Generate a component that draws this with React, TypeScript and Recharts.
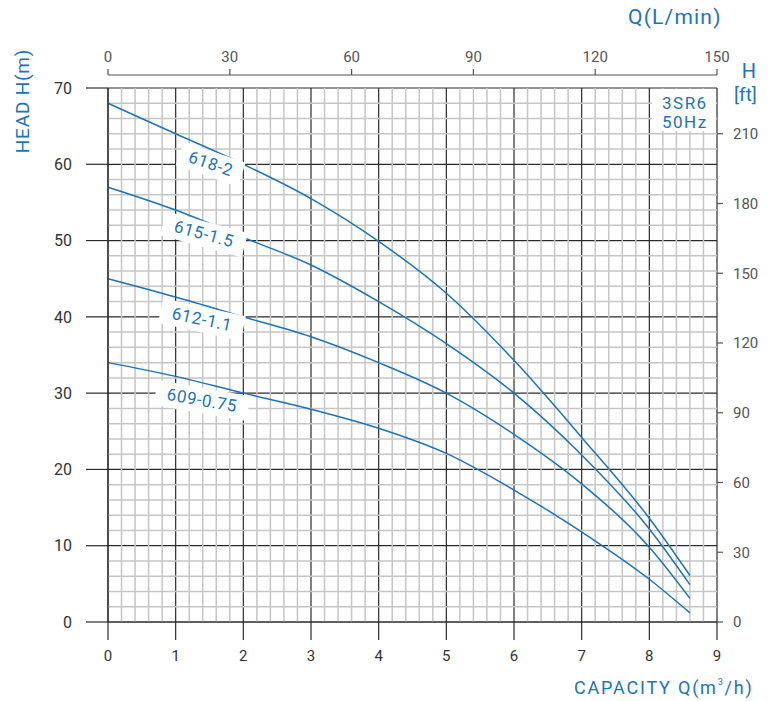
import React from 'react';
import { ComposedChart, Line, XAxis, YAxis, CartesianGrid, ReferenceDot, ReferenceLine } from 'recharts';

const FLOW_M3H = [0, 1, 2, 3, 4, 5, 6, 7, 8, 8.6];
const HEAD_618_2 = [68, 64.0, 60.0, 55.5, 49.9, 43.1, 34.3, 24.2, 13.6, 6.1];
const HEAD_615_15 = [57, 54.0, 50.4, 46.8, 42.0, 36.5, 30.0, 21.9, 12.2, 4.9];
const HEAD_612_11 = [45, 42.6, 40.0, 37.4, 34.0, 30.0, 24.6, 18.1, 9.8, 3.1];
const HEAD_609_075 = [34, 32.2, 30.0, 27.9, 25.4, 22.1, 17.3, 11.8, 5.6, 1.2];

const SERIES_KEYS = ['s618', 's615', 's612', 's609'];
const SERIES_NAMES = ['618-2', '615-1.5', '612-1.1', '609-0.75'];
const LABEL_Q = [1.52, 1.42, 1.39, 1.39];
const LABEL_H = [60.1, 50.9, 39.7, 29.1];
const LABEL_ANGLE = [19, 15, 12, 10];

const X_TICKS = [0, 1, 2, 3, 4, 5, 6, 7, 8, 9];
const Y_TICKS = [0, 10, 20, 30, 40, 50, 60, 70];
const FT_TICKS = [0, 30, 60, 90, 120, 150, 180, 210];
const LMIN_TICKS = [0, 30, 60, 90, 120, 150];
const X_MINOR: number[] = [];
for (let i = 1; i < 45; i++) if (i % 5 !== 0) X_MINOR.push(i / 5);
const Y_MINOR: number[] = [];
for (let i = 1; i < 35; i++) if (i % 5 !== 0) Y_MINOR.push(i * 2);

const M_TO_FT = 3.28084;
const LMIN_PER_M3H = 1000 / 60;
const LMIN_TICKS_AS_M3H = LMIN_TICKS.map((v) => v / LMIN_PER_M3H);
const BLUE = '#1a74bd';
const FONT = 'Roboto, "DejaVu Sans", sans-serif';
const MINOR = '#c6c6c6';

const data = FLOW_M3H.map((q, i) => ({
  q,
  s618: HEAD_618_2[i],
  s615: HEAD_615_15[i],
  s612: HEAD_612_11[i],
  s609: HEAD_609_075[i],
}));

const renderTopTick = (props: any) => {
  const { x, y, payload } = props;
  return (
    <text x={x} y={y - 18} textAnchor="middle" fill="#555" fontSize={15} fontFamily={FONT}>
      {Math.round(payload.value * LMIN_PER_M3H)}
    </text>
  );
};

const makeLabelShape = (name: string, angle: number) => (props: any) => {
  const { cx, cy } = props;
  const w = name.length * 9.5 + 18;
  return (
    <g transform={`translate(${cx},${cy}) rotate(${angle})`}>
      <rect x={-w / 2} y={-12} width={w} height={25} fill="#fff" />
      <text
        x={0}
        y={0}
        textAnchor="middle"
        dominantBaseline="central"
        fill={BLUE}
        fontSize={17}
        letterSpacing={0.6}
        fontFamily={FONT}
      >
        {name}
      </text>
    </g>
  );
};

const textStyle: React.CSSProperties = {
  position: 'absolute',
  color: BLUE,
  fontFamily: FONT,
  whiteSpace: 'nowrap',
  lineHeight: 1,
};

export default function App() {
  return (
    <div style={{ position: 'absolute', left: 0, top: 0, width: 779, height: 701, background: '#fff', overflow: 'hidden' }}>
      <ComposedChart width={779} height={701} data={data} margin={{ top: 0, right: 0, bottom: 0, left: 0 }}>
        <CartesianGrid stroke="#2a2a2a" strokeWidth={1.2} />
        <XAxis
          dataKey="q"
          type="number"
          domain={[0, 9]}
          ticks={X_TICKS}
          interval={0}
          height={79}
          tickSize={18}
          tickMargin={10}
          axisLine={{ stroke: '#2a2a2a', strokeWidth: 1.2 }}
          tickLine={{ stroke: '#2a2a2a', strokeWidth: 1.2 }}
          tick={{ fill: '#333', fontSize: 15, fontFamily: FONT }}
        />
        <XAxis
          xAxisId="lmin"
          dataKey="q"
          orientation="top"
          type="number"
          domain={[0, 9]}
          allowDataOverflow
          ticks={LMIN_TICKS_AS_M3H}
          interval={0}
          height={88}
          tickSize={6}
          tickMargin={2}
          axisLine={{ stroke: '#555', strokeWidth: 1.2, transform: 'translate(0,-13)' }}
          tickLine={{ stroke: '#555', strokeWidth: 1.2, transform: 'translate(0,-13)' }}
          tick={renderTopTick}
        />
        <YAxis
          type="number"
          domain={[0, 70]}
          ticks={Y_TICKS}
          interval={0}
          width={108}
          tickSize={22}
          tickMargin={14}
          axisLine={{ stroke: '#2a2a2a', strokeWidth: 1.2 }}
          tickLine={{ stroke: '#2a2a2a', strokeWidth: 1.2 }}
          tick={{ fill: '#333', fontSize: 16, fontFamily: FONT }}
        />
        <YAxis
          yAxisId="ft"
          orientation="right"
          type="number"
          domain={[0, 70 * M_TO_FT]}
          allowDataOverflow
          ticks={FT_TICKS}
          interval={0}
          width={62}
          tickSize={6}
          tickMargin={10}
          axisLine={false}
          tickLine={{ stroke: '#555', strokeWidth: 1.2 }}
          tick={{ fill: '#555', fontSize: 15, fontFamily: FONT, textAnchor: 'start' }}
        />
        {X_MINOR.map((v) => (
          <ReferenceLine key={'vx' + v} x={v} stroke={MINOR} strokeWidth={1.5} />
        ))}
        {Y_MINOR.map((v) => (
          <ReferenceLine key={'hy' + v} y={v} stroke={MINOR} strokeWidth={1.5} />
        ))}
        {SERIES_KEYS.map((k) => (
          <Line
            key={k}
            dataKey={k}
            type="monotone"
            stroke={BLUE}
            strokeWidth={1.5}
            dot={false}
            activeDot={false}
            isAnimationActive={false}
          />
        ))}
        {SERIES_NAMES.map((name, i) => (
          <ReferenceDot
            key={name}
            x={LABEL_Q[i]}
            y={LABEL_H[i]}
            r={1}
            shape={makeLabelShape(name, LABEL_ANGLE[i])}
          />
        ))}
      </ComposedChart>
      <div style={{ ...textStyle, left: 628, top: 7, fontSize: 21, letterSpacing: 1.2 }}>Q(L/min)</div>
      <div style={{ ...textStyle, left: 738, top: 61, fontSize: 20, width: 22, textAlign: 'center' }}>H</div>
      <div style={{ ...textStyle, left: 734, top: 85, fontSize: 19 }}>[ft]</div>
      <div
        style={{
          ...textStyle,
          left: 22,
          top: 101,
          fontSize: 19,
          transform: 'translate(-50%,-50%) rotate(-90deg)',
          letterSpacing: 0.8,
        }}
      >
        HEAD H(m)
      </div>
      <div style={{ ...textStyle, left: 574, top: 679, fontSize: 18, letterSpacing: 1.8 }}>
        CAPACITY Q(m<sup style={{ fontSize: 9, verticalAlign: 'top', position: 'relative', top: -1 }}>3</sup>/h)
      </div>
      <div
        style={{
          ...textStyle,
          left: 652,
          top: 89,
          width: 64,
          height: 42,
          background: '#fff',
          fontSize: 17,
          letterSpacing: 1.5,
          paddingLeft: 10,
          paddingTop: 5,
          boxSizing: 'border-box',
          lineHeight: '19px',
        }}
      >
        3SR6
        <br />
        50Hz
      </div>
    </div>
  );
}
